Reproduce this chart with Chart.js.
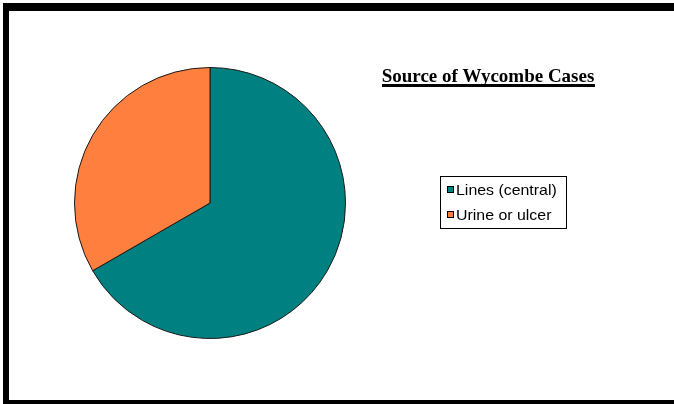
<!DOCTYPE html>
<html>
<head>
<meta charset="utf-8">
<script src="https://cdn.jsdelivr.net/npm/chart.js@4"></script>
<style>
  html, body { margin: 0; padding: 0; background: #fff; }
  #wrap { width: 674px; height: 404px; }
</style>
</head>
<body>
<div id="wrap"><canvas id="pie" width="674" height="404"></canvas></div>
<script>
// chart data
const categories = ["Lines (central)", "Urine or ulcer"];
const caseCounts = [2, 1];
const sliceColors = ["#008080", "#FF7F3F"];
const chartTitle = "Source of Wycombe Cases";

// frame, underlined title and boxed legend, like the old Excel chart
const decorPlugin = {
  id: 'decor',
  beforeDraw(chart) {
    const ctx = chart.ctx;
    ctx.save();
    ctx.fillStyle = '#fff';
    ctx.fillRect(0, 0, chart.width, chart.height);
    ctx.fillStyle = '#000';
    ctx.fillRect(3, 3, 671, 8);    // top
    ctx.fillRect(3, 3, 6, 401);    // left
    ctx.fillRect(3, 400, 671, 4);  // bottom
    ctx.restore();
  },
  afterDraw(chart) {
    const ctx = chart.ctx;
    ctx.save();

    // title
    ctx.font = 'bold 19px "Liberation Serif", "Times New Roman", serif';
    ctx.fillStyle = '#000';
    ctx.textAlign = 'center';
    ctx.textBaseline = 'alphabetic';
    const tx = 488, ty = 82;
    ctx.fillText(chartTitle, tx, ty);
    const tw = ctx.measureText(chartTitle).width;
    ctx.fillRect(Math.round(tx - tw / 2), ty + 2, Math.round(tw), 3);

    // legend box
    const lx = 440.5, ly = 176.5, lw = 126, lh = 52;
    ctx.strokeStyle = '#000';
    ctx.lineWidth = 1;
    ctx.strokeRect(lx, ly, lw, lh);
    ctx.textAlign = 'left';
    ctx.textBaseline = 'middle';
    const ds = chart.data.datasets[0];
    chart.data.labels.forEach((label, i) => {
      const cy = 190 + i * 25;
      ctx.fillStyle = ds.backgroundColor[i];
      ctx.fillRect(447, cy - 4, 7, 7);
      ctx.strokeStyle = '#000';
      ctx.strokeRect(447.5, cy - 3.5, 6, 6);
      ctx.fillStyle = '#000';
      ctx.save();
      ctx.translate(456, cy + 1);
      ctx.scale(1.06, 1);
      ctx.font = '15px "Liberation Sans", Arial, sans-serif';
      ctx.fillText(label, 0, 0);
      ctx.restore();
    });
    ctx.restore();
  }
};

new Chart(document.getElementById('pie'), {
  type: 'pie',
  data: {
    labels: categories,
    datasets: [{
      data: caseCounts,
      backgroundColor: sliceColors,
      borderColor: '#1a1a1a',
      borderWidth: 1
    }]
  },
  options: {
    responsive: false,
    animation: false,
    layout: { padding: { left: 74, right: 328, top: 67, bottom: 65 } },
    plugins: {
      legend: { display: false },
      title: { display: false },
      tooltip: { enabled: false }
    }
  },
  plugins: [decorPlugin]
});
</script>
</body>
</html>
